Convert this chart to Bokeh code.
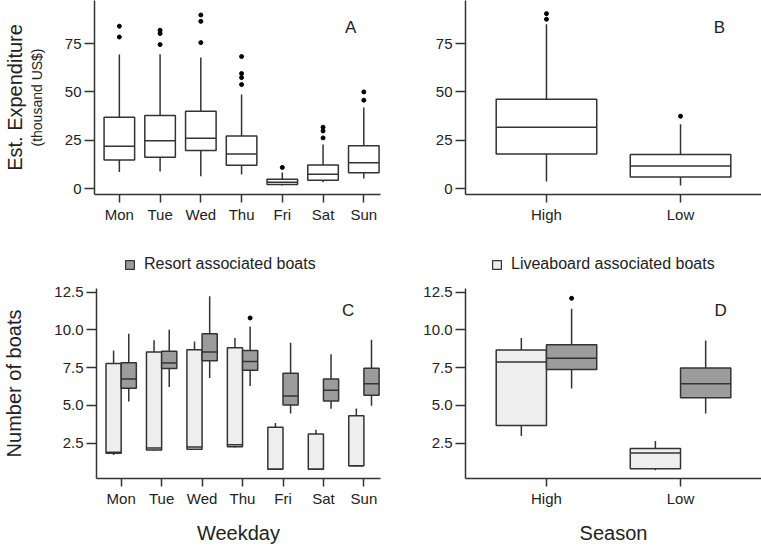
import numpy as np
from bokeh.plotting import figure
from bokeh.models import (Range1d, FixedTicker, LinearAxis, Label, Legend,
                          LegendItem, NumeralTickFormatter)
from bokeh.layouts import column, row
from bokeh.embed import file_html
from bokeh.resources import INLINE

# ---------------- data ----------------
days = ["Mon", "Tue", "Wed", "Thu", "Fri", "Sat", "Sun"]
seasons = ["High", "Low"]

# A: estimated expenditure by weekday (thousand US$)
exp_day_lo = [8.6, 8.8, 6.3, 7.2, 1.6, 3.3, 5.2]
exp_day_q1 = [14.8, 16.2, 19.7, 12.1, 2.1, 4.3, 8.1]
exp_day_med = [21.9, 24.7, 26.0, 17.8, 3.3, 7.4, 13.3]
exp_day_q3 = [36.9, 37.8, 40.0, 27.2, 4.8, 12.2, 22.1]
exp_day_hi = [69.3, 69.5, 67.8, 48.6, 8.3, 22.8, 41.9]
exp_day_out = {"Mon": [84.0, 78.4], "Tue": [81.9, 80.2, 74.5],
               "Wed": [89.8, 86.5, 75.5], "Thu": [68.3, 59.5, 57.4, 53.8],
               "Fri": [10.9], "Sat": [31.7, 29.8, 26.2], "Sun": [50.0, 45.7]}

# B: estimated expenditure by season
exp_sea_lo = [3.6, 1.6]
exp_sea_q1 = [17.9, 5.9]
exp_sea_med = [31.7, 11.7]
exp_sea_q3 = [46.2, 17.6]
exp_sea_hi = [85.0, 33.3]
exp_sea_out = {"High": [90.5, 87.6], "Low": [37.4]}

# C: number of boats by weekday
lb_day_lo = [1.72, 2.00, 2.05, 2.22, 0.77, 0.77, 0.96]
lb_day_q1 = [1.83, 2.05, 2.09, 2.26, 0.77, 0.77, 1.01]
lb_day_med = [1.89, 2.18, 2.24, 2.39, 0.77, 0.77, 1.01]
lb_day_q3 = [7.78, 8.54, 8.69, 8.82, 3.56, 3.11, 4.32]
lb_day_hi = [8.63, 9.32, 9.23, 9.47, 3.84, 3.39, 4.79]
rs_day_lo = [5.25, 6.22, 6.81, 6.29, 4.47, 4.77, 4.97]
rs_day_q1 = [6.14, 7.44, 7.96, 7.33, 5.03, 5.29, 5.68]
rs_day_med = [6.74, 7.80, 8.54, 7.91, 5.62, 6.01, 6.44]
rs_day_q3 = [7.83, 8.58, 9.75, 8.63, 7.13, 6.74, 7.46]
rs_day_hi = [9.75, 10.01, 12.22, 10.23, 9.15, 8.39, 9.34]
rs_day_out = {"Thu": [10.79]}

# D: number of boats by season
lb_sea_lo = [2.98, 0.70]
lb_sea_q1 = [3.67, 0.81]
lb_sea_med = [7.87, 1.85]
lb_sea_q3 = [8.67, 2.15]
lb_sea_hi = [9.47, 2.65]
rs_sea_lo = [6.12, 4.47]
rs_sea_q1 = [7.37, 5.51]
rs_sea_med = [8.13, 6.44]
rs_sea_q3 = [9.02, 7.48]
rs_sea_hi = [11.40, 9.30]
rs_sea_out = {"High": [12.09]}

exp_ticks = [0, 25, 50, 75]
boat_ticks = [2.5, 5.0, 7.5, 10.0, 12.5]

# ---------------- style ----------------
FONT = "Liberation Sans"
LINE = "#333333"
DARK = "#9c9c9c"
LIGHT = "#eeeeee"
LW = 1.5
HW = 0.375


def make_fig(width, height, xr, yr, bl, br, bt, bb):
    p = figure(width=width, height=height, x_range=xr, y_range=yr,
               output_backend="svg", toolbar_location=None,
               min_border_left=bl, min_border_right=br,
               min_border_top=bt, min_border_bottom=bb)
    p.outline_line_color = None
    p.grid.grid_line_color = None
    p.background_fill_color = "white"
    p.border_fill_color = "white"
    for ax in (p.xaxis[0], p.yaxis[0]):
        ax.axis_line_color = LINE
        ax.axis_line_width = LW
        ax.major_tick_line_color = LINE
        ax.major_tick_line_width = LW
        ax.minor_tick_line_color = None
        ax.major_tick_in = 0
        ax.major_label_text_font = FONT
        ax.major_label_text_font_size = "15px"
        ax.major_label_text_color = "#222222"
        ax.axis_label_text_font = FONT
        ax.axis_label_text_font_style = "normal"
        ax.axis_label_text_color = "#222222"
        ax.major_label_standoff = 3
    p.yaxis[0].major_tick_out = 10
    p.xaxis[0].major_tick_out = 8
    return p


def set_x(p, labels):
    ticks = list(range(1, len(labels) + 1))
    p.xaxis[0].ticker = FixedTicker(ticks=ticks)
    p.xaxis[0].major_label_overrides = {t: l for t, l in zip(ticks, labels)}


def draw_boxes(p, xs, w, lo, q1, med, q3, hi, fill):
    xs = np.asarray(xs, dtype=float)
    kw = dict(line_color=LINE, line_width=LW)
    p.segment(xs, q3, xs, hi, **kw)
    p.segment(xs, q1, xs, lo, **kw)
    r = p.vbar(x=xs, width=w, bottom=q1, top=q3, fill_color=fill, **kw)
    p.segment(xs - w / 2, med, xs + w / 2, med, **kw)
    return r


def draw_out(p, cats, outs, shift=0.0):
    xs, ys = [], []
    for i, c in enumerate(cats):
        for v in outs.get(c, []):
            xs.append(i + 1 + shift)
            ys.append(v)
    p.scatter(xs, ys, size=4, color="black")


def panel_label(p, x, y, t):
    p.add_layout(Label(x=x, y=y, text=t, text_font=FONT, text_font_size="17px",
                       text_align="center", text_baseline="middle",
                       text_color="#222222"))


def legend_fig(width, height, xs, q1, q3, text, fill, x, y):
    # legend strip above a lower panel (its frame lines up with that panel's
    # frame); the series' box renderer here is hidden, only its legend entry
    # is shown
    p = figure(width=width, height=height, output_backend="svg",
               toolbar_location=None, x_axis_type=None, y_axis_type=None,
               x_range=Range1d(-20, -19), y_range=Range1d(-20, -19),
               min_border_left=0, min_border_right=0, min_border_top=0,
               min_border_bottom=0)
    p.outline_line_color = None
    p.grid.grid_line_color = None
    r = p.vbar(x=xs, width=HW, top=q3, bottom=q1, fill_color=fill,
               line_color=LINE, line_width=1.2, visible=False)
    leg = Legend(items=[LegendItem(label=text, renderers=[r], index=0)],
                 location=(x, y), orientation="horizontal", glyph_width=11,
                 glyph_height=11, label_text_font=FONT,
                 label_text_font_size="16px", label_text_color="#222222",
                 border_line_color=None, background_fill_alpha=0,
                 padding=2, margin=0, label_standoff=9, label_height=18,
                 click_policy="none")
    p.add_layout(leg)
    return p


# ---------------- panel A ----------------
pA = make_fig(400, 240, Range1d(0.39, 7.41), Range1d(-3.1, 97.3), 92, 20, 0, 46)
set_x(pA, days)
pA.yaxis[0].ticker = FixedTicker(ticks=exp_ticks)
pA.yaxis[0].axis_label = "(thousand US$)"
pA.yaxis[0].axis_label_text_font_size = "14px"
pA.yaxis[0].axis_label_standoff = 17
ax2 = LinearAxis(ticker=FixedTicker(ticks=[]), axis_label="Est. Expenditure",
                 axis_line_color=None, major_tick_line_color=None,
                 minor_tick_line_color=None, major_label_text_font_size="0px",
                 axis_label_standoff=0, axis_label_text_font=FONT,
                 axis_label_text_font_size="20px",
                 axis_label_text_font_style="normal",
                 axis_label_text_color="#222222")
pA.add_layout(ax2, "left")
draw_boxes(pA, range(1, 8), 0.75, exp_day_lo, exp_day_q1, exp_day_med,
           exp_day_q3, exp_day_hi, "white")
draw_out(pA, days, exp_day_out)
panel_label(pA, 6.68, 83.3, "A")

# ---------------- panel B ----------------
pB = make_fig(361, 240, Range1d(0.396, 2.604), Range1d(-3.1, 97.3), 65, 0, 0, 46)
set_x(pB, seasons)
pB.yaxis[0].ticker = FixedTicker(ticks=exp_ticks)
draw_boxes(pB, [1, 2], 0.75, exp_sea_lo, exp_sea_q1, exp_sea_med,
           exp_sea_q3, exp_sea_hi, "white")
draw_out(pB, seasons, exp_sea_out)
panel_label(pB, 2.29, 83.3, "B")

# ---------------- panel C ----------------
pC = make_fig(400, 268, Range1d(0.39, 7.41), Range1d(0.16, 12.74), 92, 20, 10, 64)
set_x(pC, days)
pC.yaxis[0].ticker = FixedTicker(ticks=boat_ticks)
pC.yaxis[0].formatter = NumeralTickFormatter(format="0.0")
pC.yaxis[0].axis_label = "Number of boats"
pC.yaxis[0].axis_label_text_font_size = "20px"
pC.yaxis[0].axis_label_standoff = 26
pC.xaxis[0].axis_label = "Weekday"
pC.xaxis[0].axis_label_text_font_size = "20px"
pC.xaxis[0].axis_label_standoff = 12
xC = np.arange(1, 8)
draw_boxes(pC, xC - HW / 2, HW, lb_day_lo, lb_day_q1, lb_day_med,
           lb_day_q3, lb_day_hi, LIGHT)
draw_boxes(pC, xC + HW / 2, HW, rs_day_lo, rs_day_q1, rs_day_med,
           rs_day_q3, rs_day_hi, DARK)
draw_out(pC, days, rs_day_out, HW / 2)
panel_label(pC, 6.61, 11.31, "C")
legC = legend_fig(400, 38, xC + HW / 2, rs_day_q1, rs_day_q3,
                  "Resort associated boats", DARK, 28, 5)

# ---------------- panel D ----------------
pD = make_fig(361, 268, Range1d(0.396, 2.604), Range1d(0.16, 12.74), 65, 0, 10, 64)
set_x(pD, seasons)
pD.yaxis[0].ticker = FixedTicker(ticks=boat_ticks)
pD.yaxis[0].formatter = NumeralTickFormatter(format="0.0")
pD.xaxis[0].axis_label = "Season"
pD.xaxis[0].axis_label_text_font_size = "20px"
pD.xaxis[0].axis_label_standoff = 12
xD = np.arange(1, 3)
draw_boxes(pD, xD - HW / 2, HW, lb_sea_lo, lb_sea_q1, lb_sea_med,
           lb_sea_q3, lb_sea_hi, LIGHT)
draw_boxes(pD, xD + HW / 2, HW, rs_sea_lo, rs_sea_q1, rs_sea_med,
           rs_sea_q3, rs_sea_hi, DARK)
draw_out(pD, seasons, rs_sea_out, HW / 2)
panel_label(pD, 2.30, 11.31, "D")
legD = legend_fig(361, 38, xD - HW / 2, lb_sea_q1, lb_sea_q3,
                  "Liveaboard associated boats", LIGHT, 26, 5)

layout = column(row(pA, pB), row(column(legC, pC), column(legD, pD)))
open("out.html", "w").write(file_html(layout, INLINE))
